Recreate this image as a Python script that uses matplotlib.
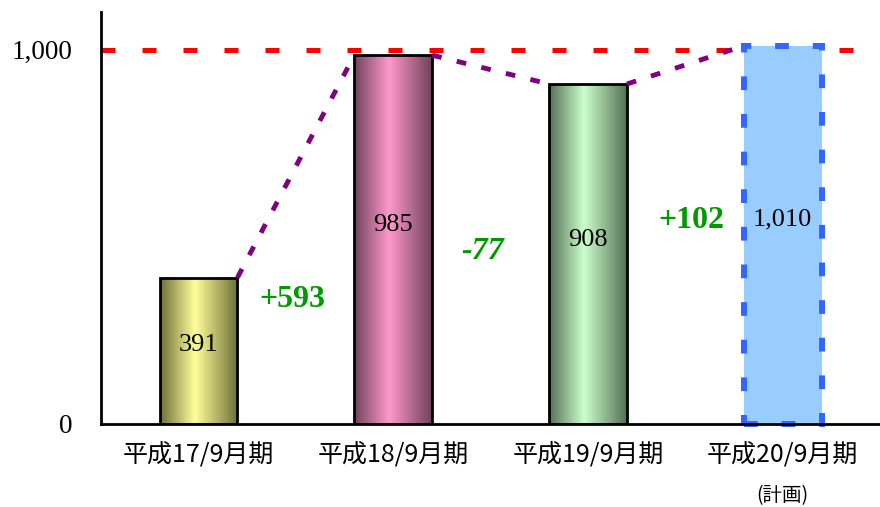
import numpy as np
import matplotlib.pyplot as plt
from matplotlib.patches import Rectangle
from matplotlib.colors import to_rgb

# 売上高の推移（平成20/9月期は計画値）
periods = ['平成17/9月期', '平成18/9月期', '平成19/9月期', '平成20/9月期']
values = [391, 985, 908, 1010]
value_labels = ['391', '985', '908', '1,010']
diff_labels = ['+593', '-77', '+102']
target = 1000

# グラデーション用の色（端の暗い色, 中央の明るい色）
bar_colors = [('#6f6f3a', '#ffff99'),
              ('#6f425a', '#ff99cc'),
              ('#557055', '#ccffcc')]
plan_fill = '#99ccff'
plan_edge = '#3366ff'

serif = ['Liberation Serif', 'DejaVu Serif']
cjk = ['Noto Sans CJK JP', 'DejaVu Sans']

fig = plt.figure(figsize=(8.8, 5.07), dpi=100)
ax = fig.add_axes([0.115, 0.164, 0.885, 0.812])

width = 0.4
x = np.arange(len(values))

ax.set_xlim(-0.5, 3.5)
ax.set_ylim(0, 1100)

# 目標ライン
ax.axhline(target, color='red', lw=3.6, ls=(0, (2.8, 5.4)), zorder=1)

# 実績：横方向グラデーションの棒（両端が暗く中央が明るい）
t = np.linspace(0, 1, 200)
peak = 0.45
f = np.where(t < peak, t / peak, (1 - t) / (1 - peak))
for i in range(3):
    dark, light = np.array(to_rgb(bar_colors[i][0])), np.array(to_rgb(bar_colors[i][1]))
    grad = dark[None, :] * (1 - f[:, None]) + light[None, :] * f[:, None]
    img = ax.imshow(grad[None, :, :], extent=[x[i] - width / 2, x[i] + width / 2, 0, values[i]],
                    aspect='auto', zorder=2, interpolation='bilinear')
    rect = Rectangle((x[i] - width / 2, 0), width, values[i], fill=False,
                     edgecolor='black', lw=2, zorder=3)
    ax.add_patch(rect)
    img.set_clip_path(rect)

# 計画：点線枠の棒
ax.bar(x[3], values[3], width=width, color=plan_fill, zorder=2)
ax.bar(x[3], values[3], width=width, fill=False, edgecolor=plan_edge,
       lw=4.3, ls=(0, (2.3, 4.0)), zorder=3, clip_on=False)

# 棒の上端をつなぐ点線
for i in range(3):
    ax.plot([x[i] + width / 2, x[i + 1] - width / 2], [values[i], values[i + 1]],
            color='#800080', lw=3.5, ls=(0, (2.0, 3.2)), zorder=4)

# 数値ラベル
for i in range(4):
    ax.text(x[i], values[i] * 0.54, value_labels[i], ha='center', va='center',
            fontsize=19, family=serif, zorder=5)

# 増減ラベル
diff_pos = [(0.48, 332), (1.46, 460), (2.53, 543)]
for (px, py), lab in zip(diff_pos, diff_labels):
    style = 'italic' if lab.startswith('-') else 'normal'
    ax.text(px, py, lab, ha='center', va='center', fontsize=23, fontweight='bold',
            style=style, color='#009900', family=serif, zorder=5)

ax.set_xticks(x)
ax.set_xticklabels(periods, fontsize=18, family=cjk)
ax.set_yticks([0, 1000])
ax.set_yticklabels(['0', '1,000'], fontsize=19.5, family=serif)
ax.tick_params(axis='x', length=0, pad=13)
ax.tick_params(axis='y', length=0, pad=21)

ax.text(x[3], -0.175, '(計画)', transform=ax.get_xaxis_transform(),
        ha='center', va='center', fontsize=14, family=cjk)

for side in ['top', 'right']:
    ax.spines[side].set_visible(False)
for side in ['left', 'bottom']:
    ax.spines[side].set_linewidth(2)
    ax.spines[side].set_zorder(6)

fig.savefig('out.png', dpi=100)
